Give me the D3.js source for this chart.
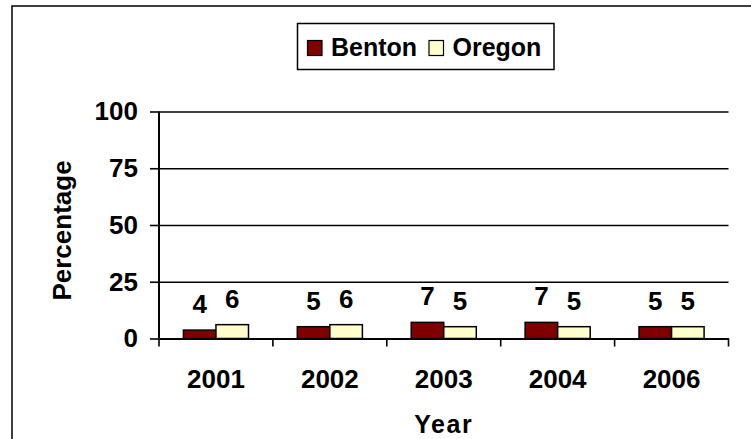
<!DOCTYPE html>
<html>
<head>
<meta charset="utf-8">
<script src="https://cdn.jsdelivr.net/npm/d3@7"></script>
<style>
  body { margin: 0; background: #fff; }
  svg text { font-family: "Liberation Sans", Arial, sans-serif; font-weight: bold; }
</style>
</head>
<body>
<div id="chart"></div>
<script>
// chart data
let years = ["2001", "2002", "2003", "2004", "2006"]
let seriesNames = ["Benton", "Oregon"]
let bentonValues = [3.7, 5.2, 7.1, 7.1, 5.2]
let oregonValues = [6.1, 6.1, 5.2, 5.2, 5.2]
let yTicks = [0, 25, 50, 75, 100]
let seriesColors = ["#800000", "#FFFFCC"]

let rows = years.map((y, i) => ({ year: y, Benton: bentonValues[i], Oregon: oregonValues[i] }))

let margin = { top: 111.5, right: 22.5, bottom: 100.5, left: 159 }
let W = 751, H = 439
let width = W - margin.left - margin.right
let height = H - margin.top - margin.bottom

let svg = d3.select("#chart")
    .append("svg")
    .attr("width", W)
    .attr("height", H)

// outer chart border (right and bottom fall outside the picture)
svg.append("rect")
    .attr("x", 12)
    .attr("y", 6)
    .attr("width", 760)
    .attr("height", 460)
    .attr("fill", "none")
    .attr("stroke", "#000")
    .attr("stroke-width", 1.5)

let g = svg.append("g")
    .attr("transform", "translate(" + margin.left + "," + margin.top + ")")

let x0 = d3.scaleBand()
    .domain(years)
    .range([0, width])
    .padding(0)

let x1 = d3.scaleBand()
    .domain(seriesNames)
    .range([0, x0.bandwidth()])
    .paddingInner(0)
    .paddingOuter(0.75)

let y = d3.scaleLinear()
    .domain([0, 100])
    .range([height, 0])

let color = d3.scaleOrdinal()
    .domain(seriesNames)
    .range(seriesColors)

// gridlines
g.append("g")
    .call(d3.axisLeft(y).tickValues(yTicks.slice(1)).tickSize(-width).tickFormat(""))
    .call(a => a.select(".domain").remove())
    .selectAll("line")
    .attr("stroke", "#000")
    .attr("stroke-width", 1.6)

// y axis
let yAxis = g.append("g")
    .call(d3.axisLeft(y).tickValues(yTicks).tickSize(9).tickPadding(12))
yAxis.select(".domain").attr("stroke-width", 2).attr("d", "M0," + height + "V0")
yAxis.selectAll("line").attr("stroke-width", 1.6)
yAxis.selectAll("text")
    .style("font-size", "26px")
    .attr("fill", "#000")

// x axis labels
let xAxis = g.append("g")
    .attr("transform", "translate(0," + height + ")")
    .call(d3.axisBottom(x0).tickSize(0).tickPadding(31))
xAxis.select(".domain").attr("stroke-width", 2)
xAxis.selectAll("text")
    .style("font-size", "26px")
    .attr("fill", "#000")

// x boundary ticks
g.append("g")
    .selectAll("line")
    .data(years.concat(["end"]))
    .enter()
    .append("line")
    .attr("x1", d => d == "end" ? width : x0(d))
    .attr("x2", d => d == "end" ? width : x0(d))
    .attr("y1", height)
    .attr("y2", height + 8)
    .attr("stroke", "#000")
    .attr("stroke-width", 1.6)

// bars
let groups = g.append("g")
    .selectAll("g")
    .data(rows)
    .enter()
    .append("g")
    .attr("transform", d => "translate(" + x0(d.year) + ",0)")

let cells = d => seriesNames.map(s => ({ key: s, value: d[s] }))

groups.selectAll("rect")
    .data(cells)
    .enter()
    .append("rect")
    .attr("x", d => x1(d.key))
    .attr("y", d => y(d.value))
    .attr("width", x1.bandwidth())
    .attr("height", d => height - y(d.value))
    .attr("fill", d => color(d.key))
    .attr("stroke", "#000")
    .attr("stroke-width", 1.5)

groups.selectAll("text")
    .data(cells)
    .enter()
    .append("text")
    .attr("x", d => x1(d.key) + x1.bandwidth() / 2)
    .attr("y", d => y(d.value) - 17)
    .attr("text-anchor", "middle")
    .style("font-size", "26px")
    .text(d => d3.format(".0f")(d.value))

// axis titles
svg.append("text")
    .attr("transform", "translate(71," + 230.5 + ") rotate(-90)")
    .attr("text-anchor", "middle")
    .style("font-size", "26px")
    .text("Percentage")

svg.append("text")
    .attr("x", margin.left + width / 2)
    .attr("y", 433)
    .attr("text-anchor", "middle")
    .style("font-size", "25px")
    .style("letter-spacing", "1.5px")
    .text("Year")

// legend
let legend = svg.append("g")
    .attr("transform", "translate(297.5,23.5)")

legend.append("rect")
    .attr("width", 256.5)
    .attr("height", 46)
    .attr("fill", "#fff")
    .attr("stroke", "#000")
    .attr("stroke-width", 1.5)

let legendX = [10, 131.5]
let items = legend.selectAll("g.item")
    .data(seriesNames)
    .enter()
    .append("g")
    .attr("class", "item")
    .attr("transform", (d, i) => "translate(" + legendX[i] + ",0)")

items.append("rect")
    .attr("x", 0)
    .attr("y", 17)
    .attr("width", 14.5)
    .attr("height", 15)
    .attr("fill", d => color(d))
    .attr("stroke", "#000")
    .attr("stroke-width", 1.2)

items.append("text")
    .attr("x", 23.5)
    .attr("y", 32)
    .style("font-size", "25px")
    .text(d => d)
</script>
</body>
</html>
